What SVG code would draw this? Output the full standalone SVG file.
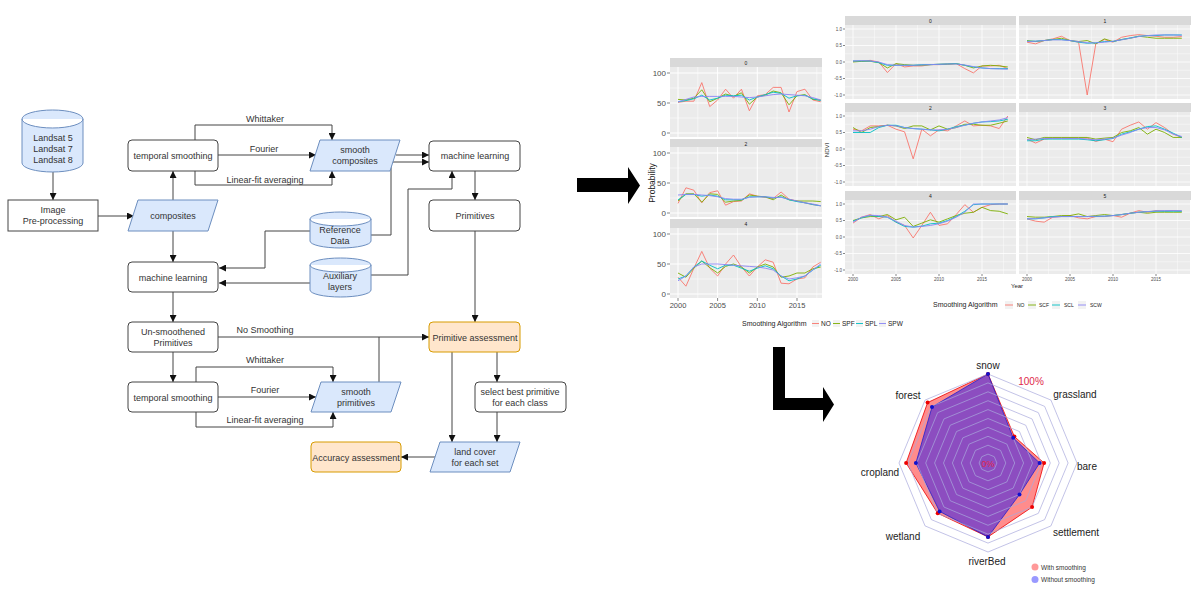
<svg xmlns="http://www.w3.org/2000/svg" xmlns:xlink="http://www.w3.org/1999/xlink" width="1200" height="600" viewBox="0 0 1200 600">
<style>
text{font-family:"Liberation Sans",Arial,sans-serif}
.ft{font-size:9px;fill:#333;text-anchor:middle}
.box{fill:#fff;stroke:#444;stroke-width:1}
.blue{fill:#dae8fc;stroke:#6c8ebf;stroke-width:1}
.org{fill:#ffe6cc;stroke:#d79b00;stroke-width:1}
.cn{fill:none;stroke:#444;stroke-width:1}
.d{fill:none;stroke-width:0.9;vector-effect:non-scaling-stroke;stroke-linejoin:round}
.no{stroke:#F8766D}.sf{stroke:#7CAE00}.sl{stroke:#00BFC4}.sw{stroke:#8a84f5}
.strip{fill:#D9D9D9}
.st{font-size:5px;fill:#1a1a1a;text-anchor:middle}
.tl{font-size:8px;fill:#4d4d4d;text-anchor:end}
.xl{font-size:7.5px;fill:#4d4d4d;text-anchor:middle}
.tr{font-size:4.5px;fill:#4d4d4d;text-anchor:end}
.xr{font-size:4.5px;fill:#4d4d4d;text-anchor:middle}
.tick{stroke:#333;stroke-width:0.6}
.ring{fill:none;stroke:#a9a9dc;stroke-width:0.7}
.rl{font-size:10px;fill:#222;text-anchor:middle}
</style>
<defs>
<marker id="ah" viewBox="0 0 10 10" refX="10" refY="5" markerWidth="7" markerHeight="7" orient="auto" markerUnits="userSpaceOnUse"><path d="M0,0 L10,5 L0,10 Z" fill="#111"/></marker>
<g id="gL"><rect width="152" height="70" fill="#EBEBEB"/><path d="M0,51H152M0,21H152M27.8,0V70M67.5,0V70M107.1,0V70M146.8,0V70" stroke="#fff" stroke-width="0.5"/><path d="M0,66H152M0,36H152M0,6H152M8,0V70M47.6,0V70M87.3,0V70M127,0V70" stroke="#fff" stroke-width="1"/></g>
<g id="gR"><rect width="171" height="74" fill="#EBEBEB"/><path d="M0,12.25H171M0,28.75H171M0,45.25H171M0,61.75H171M29.5,0V74M72.5,0V74M115.5,0V74M158.5,0V74" stroke="#fff" stroke-width="0.4"/><path d="M0,4H171M0,20.5H171M0,37H171M0,53.5H171M0,70H171M8,0V74M51,0V74M94,0V74M137,0V74" stroke="#fff" stroke-width="0.8"/></g>
</defs>
<rect width="1200" height="600" fill="#fff"/>

<!-- connectors -->
<g id="connectors">
<path class="cn" d="M53,172V200" marker-end="url(#ah)"/>
<path class="cn" d="M98,216H134" marker-end="url(#ah)"/>
<path class="cn" d="M173,200V171" marker-end="url(#ah)"/>
<path class="cn" d="M195,140V125H332V140" marker-end="url(#ah)"/>
<path class="cn" d="M218,155H316" marker-end="url(#ah)"/>
<path class="cn" d="M195,171V185H332V171" marker-end="url(#ah)"/>
<path class="cn" d="M396,155H429" marker-end="url(#ah)"/>
<path class="cn" d="M173,231V262" marker-end="url(#ah)"/>
<path class="cn" d="M371,235H391V162H429" marker-end="url(#ah)"/>
<path class="cn" d="M310,231H265V268H219" marker-end="url(#ah)"/>
<path class="cn" d="M310,283H219" marker-end="url(#ah)"/>
<path class="cn" d="M371,275H408V189H452V171" marker-end="url(#ah)"/>
<path class="cn" d="M475,171V200" marker-end="url(#ah)"/>
<path class="cn" d="M475,231V322" marker-end="url(#ah)"/>
<path class="cn" d="M173,292V322" marker-end="url(#ah)"/>
<path class="cn" d="M218,337H429" marker-end="url(#ah)"/>
<path class="cn" d="M173,352V382" marker-end="url(#ah)"/>
<path class="cn" d="M196,382V367H333V382" marker-end="url(#ah)"/>
<path class="cn" d="M218,397H316" marker-end="url(#ah)"/>
<path class="cn" d="M196,412V427H333V412" marker-end="url(#ah)"/>
<path class="cn" d="M379,382V337"/>
<path class="cn" d="M452,352V442" marker-end="url(#ah)"/>
<path class="cn" d="M497,352V382" marker-end="url(#ah)"/>
<path class="cn" d="M497,412V442" marker-end="url(#ah)"/>
<path class="cn" d="M440,457H401" marker-end="url(#ah)"/>
<text class="ft" x="265" y="121.5">Whittaker</text>
<text class="ft" x="264" y="151.5">Fourier</text>
<text class="ft" x="265" y="182.5">Linear-fit averaging</text>
<text class="ft" x="265" y="332.5">No Smoothing</text>
<text class="ft" x="265" y="362.5">Whittaker</text>
<text class="ft" x="265" y="392.5">Fourier</text>
<text class="ft" x="265" y="422.5">Linear-fit averaging</text>
</g>

<!-- nodes -->
<g id="landsat"><path class="blue" d="M22,119 A30.5,9 0 0 1 83,119 V163 A30.5,9 0 0 1 22,163 Z M22,119 A30.5,9 0 0 0 83,119"/><text class="ft" x="53" y="141">Landsat 5</text><text class="ft" x="53" y="152">Landsat 7</text><text class="ft" x="53" y="163">Landsat 8</text></g>
<g id="preproc"><rect class="box" x="8" y="200" width="90" height="31"/><text class="ft" x="53" y="213">Image</text><text class="ft" x="53" y="224">Pre-processing</text></g>
<g id="composites"><polygon class="blue" points="138,200 218,200 208,231 128,231"/><text class="ft" x="173" y="219">composites</text></g>
<g id="tsmooth1"><rect class="box" x="128" y="140" width="90" height="31" rx="4"/><text class="ft" x="173" y="158.5">temporal smoothing</text></g>
<g id="smoothcomp"><polygon class="blue" points="320,140 400,140 390,171 310,171"/><text class="ft" x="355" y="153">smooth</text><text class="ft" x="355" y="164">composites</text></g>
<g id="ml1"><rect class="box" x="429" y="141" width="91" height="30" rx="4"/><text class="ft" x="475" y="159">machine learning</text></g>
<g id="primitives"><rect class="box" x="429" y="200" width="91" height="31" rx="4"/><text class="ft" x="475" y="219">Primitives</text></g>
<g id="refdata"><path class="blue" d="M310,219 A30.5,7 0 0 1 371,219 V241 A30.5,7 0 0 1 310,241 Z M310,219 A30.5,7 0 0 0 371,219"/><text class="ft" x="340" y="233">Reference</text><text class="ft" x="340" y="244">Data</text></g>
<g id="aux"><path class="blue" d="M310,265 A30.5,7 0 0 1 371,265 V290 A30.5,7 0 0 1 310,290 Z M310,265 A30.5,7 0 0 0 371,265"/><text class="ft" x="340" y="279">Auxiliary</text><text class="ft" x="340" y="290">layers</text></g>
<g id="ml2"><rect class="box" x="128" y="262" width="90" height="30" rx="4"/><text class="ft" x="173" y="280.5">machine learning</text></g>
<g id="unsmooth"><rect class="box" x="128" y="322" width="90" height="30" rx="4"/><text class="ft" x="173" y="335">Un-smoothened</text><text class="ft" x="173" y="346">Primitives</text></g>
<g id="tsmooth2"><rect class="box" x="128" y="382" width="90" height="30" rx="4"/><text class="ft" x="173" y="400.5">temporal smoothing</text></g>
<g id="smoothprim"><polygon class="blue" points="321,382 401,382 391,412 311,412"/><text class="ft" x="356" y="395">smooth</text><text class="ft" x="356" y="406">primitives</text></g>
<g id="primassess"><rect class="org" x="429" y="322" width="91" height="30" rx="4"/><text class="ft" x="475" y="340.5">Primitive assessment</text></g>
<g id="selectbest"><rect class="box" x="475" y="382" width="91" height="30" rx="4"/><text class="ft" x="520" y="394.5">select best primitive</text><text class="ft" x="520" y="405.5">for each class</text></g>
<g id="landcover"><polygon class="blue" points="440,442 520,442 510,472 430,472"/><text class="ft" x="475" y="455">land cover</text><text class="ft" x="475" y="466">for each set</text></g>
<g id="accuracy"><rect class="org" x="311" y="442" width="90" height="30" rx="4"/><text class="ft" x="356" y="460.5">Accuracy assessment</text></g>

<!-- big arrows -->
<polygon points="577,178 628,178 628,167 640,185.5 628,204 628,192 577,192" fill="#000"/>
<polygon points="773,347 785,347 785,398 823,398 823,387 834,404.5 823,422 823,410 773,410" fill="#000"/>

<!-- Probability chart -->
<g id="probchart">
<rect class="strip" x="670" y="58" width="152" height="9"/><text class="st" x="746" y="64.5">0</text>
<use xlink:href="#gL" x="670" y="67"/>
<rect class="strip" x="670" y="139" width="152" height="9"/><text class="st" x="746" y="145.5">2</text>
<use xlink:href="#gL" x="670" y="147"/>
<rect class="strip" x="670" y="219" width="152" height="9"/><text class="st" x="746" y="225.5">4</text>
<use xlink:href="#gL" x="670" y="228"/>
<g transform="translate(678,133) scale(7.93,-0.6)">
<polyline class="d no" points="0,51 1,53 2,53 3,84 4,44 5,55 6,73 7,58 8,73 9,37 10,62 11,64 12,76 13,76 14,35 15,69 16,73 17,55 18,52"/>
<polyline class="d sf" points="0,56 1,55 2,58 3,72 4,52 5,58 6,65 7,61 8,67 9,48 10,60 11,63 12,70 13,67 14,47 15,62 16,64 17,56 18,55"/>
<polyline class="d sl" points="0,52 1,54 2,57 3,63 4,55 5,58 6,63 7,62 8,63 9,55 10,60 11,64 12,68 13,66 14,58 15,62 16,63 17,57 18,54"/>
<polyline class="d sw" points="0,52 1,56 2,60 3,61 4,61 5,61 6,61 7,61 8,60 9,59 10,60 11,62 12,64 13,65 14,64 15,63 16,62 17,59 18,55"/>
</g>
<g transform="translate(678,213) scale(7.93,-0.6)">
<polyline class="d no" points="0,16 1,42 2,38 3,17 4,34 5,37 6,13 7,19 8,20 9,32 10,28 11,26 12,24 13,35 14,23 15,20 16,17 17,14 18,12"/>
<polyline class="d sf" points="0,20 1,32 2,32 3,18 4,32 5,31 6,18 7,20 8,21 9,30 10,28 11,27 12,22 13,30 14,22 15,20 16,20 17,20 18,19"/>
<polyline class="d sl" points="0,22 1,31 2,31 3,28 4,30 5,28 6,22 7,22 8,22 9,27 10,27 11,27 12,25 13,27 14,22 15,19 16,17 17,14 18,12"/>
<polyline class="d sw" points="0,30 1,31 2,31 3,30 4,29 5,27 6,24 7,23 8,23 9,26 10,27 11,27 12,26 13,26 14,23 15,20 16,17 17,15 18,12"/>
</g>
<g transform="translate(678,294) scale(7.93,-0.6)">
<polyline class="d no" points="0,28 1,13 2,43 3,71 4,43 5,30 6,50 7,65 8,45 9,30 10,45 11,57 12,53 13,18 14,17 15,25 16,27 17,45 18,53"/>
<polyline class="d sf" points="0,35 1,28 2,43 3,55 4,44 5,35 6,46 7,50 8,45 9,35 10,45 11,50 12,45 13,28 14,30 15,35 16,35 17,42 18,45"/>
<polyline class="d sl" points="0,25 1,30 2,45 3,55 4,48 5,42 6,48 7,48 8,43 9,38 10,43 11,47 12,42 13,30 14,22 15,25 16,30 17,40 18,48"/>
<polyline class="d sw" points="0,22 1,30 2,45 3,50 4,50 5,50 6,49 7,48 8,47 9,46 10,45 11,43 12,40 13,30 14,25 15,27 16,30 17,40 18,50"/>
</g>
<path class="tick" d="M667,73H670M667,103H670M667,133H670M667,153H670M667,183H670M667,213H670M667,234H670M667,264H670M667,294H670M678,298V301M717.6,298V301M757.3,298V301M797,298V301"/>
<text class="tl" x="666" y="76">100</text><text class="tl" x="666" y="106">50</text><text class="tl" x="666" y="136">0</text>
<text class="tl" x="666" y="156">100</text><text class="tl" x="666" y="186">50</text><text class="tl" x="666" y="216">0</text>
<text class="tl" x="666" y="237">100</text><text class="tl" x="666" y="267">50</text><text class="tl" x="666" y="297">0</text>
<text class="xl" x="678" y="308">2000</text><text class="xl" x="717.6" y="308">2005</text><text class="xl" x="757.3" y="308">2010</text><text class="xl" x="797" y="308">2015</text>
<text x="655" y="183" transform="rotate(-90 655 183)" style="font-size:8.5px;fill:#222;text-anchor:middle">Probability</text>
<text x="742" y="326" style="font-size:7px;fill:#222">Smoothing Algorithm</text>
<rect x="812" y="320" width="7" height="7" fill="#f2f2f2"/><path class="d no" d="M812,323.5H819"/><text x="821" y="325.8" style="font-size:6.5px;fill:#222">NO</text>
<rect x="833" y="320" width="7" height="7" fill="#f2f2f2"/><path class="d sf" d="M833,323.5H840"/><text x="842" y="325.8" style="font-size:6.5px;fill:#222">SPF</text>
<rect x="856" y="320" width="7" height="7" fill="#f2f2f2"/><path class="d sl" d="M856,323.5H863"/><text x="865" y="325.8" style="font-size:6.5px;fill:#222">SPL</text>
<rect x="879" y="320" width="7" height="7" fill="#f2f2f2"/><path class="d sw" d="M879,323.5H886"/><text x="888" y="325.8" style="font-size:6.5px;fill:#222">SPW</text>
</g>

<!-- NDVI chart -->
<g id="ndvichart">
<rect class="strip" x="845" y="16" width="171" height="9"/><text class="st" x="930.5" y="22.5">0</text>
<rect class="strip" x="1019" y="16" width="172" height="9"/><text class="st" x="1105" y="22.5">1</text>
<use xlink:href="#gR" x="845" y="25"/><use xlink:href="#gR" x="1019" y="25"/>
<rect class="strip" x="845" y="103" width="171" height="9"/><text class="st" x="930.5" y="109.5">2</text>
<rect class="strip" x="1019" y="103" width="172" height="9"/><text class="st" x="1105" y="109.5">3</text>
<use xlink:href="#gR" x="845" y="112"/><use xlink:href="#gR" x="1019" y="112"/>
<rect class="strip" x="845" y="191" width="171" height="9"/><text class="st" x="930.5" y="197.5">4</text>
<rect class="strip" x="1019" y="191" width="172" height="9"/><text class="st" x="1105" y="197.5">5</text>
<use xlink:href="#gR" x="845" y="200"/><use xlink:href="#gR" x="1019" y="200"/>
<g transform="translate(853,62) scale(8.6,-33)">
<polyline class="d no" points="0,0.02 1,0.02 2,0.05 3,0 4,-0.32 5,-0.05 6,-0.15 7,-0.12 8,-0.12 9,-0.08 10,-0.08 11,-0.07 12,-0.05 13,-0.2 14,-0.33 15,-0.12 16,-0.12 17,-0.1 18,-0.2"/>
<polyline class="d sf" points="0,0 1,0.02 2,0.02 3,-0.02 4,-0.18 5,-0.05 6,-0.08 7,-0.1 8,-0.1 9,-0.08 10,-0.07 11,-0.06 12,-0.05 13,-0.1 14,-0.18 15,-0.12 16,-0.1 17,-0.12 18,-0.15"/>
<polyline class="d sl" points="0,0.03 1,0.03 2,0.03 3,-0.02 4,-0.1 5,-0.1 6,-0.1 7,-0.1 8,-0.08 9,-0.08 10,-0.07 11,-0.06 12,-0.05 13,-0.1 14,-0.15 15,-0.18 16,-0.2 17,-0.2 18,-0.2"/>
<polyline class="d sw" points="0,0.03 1,0.04 2,0.03 3,0 4,-0.08 5,-0.1 6,-0.1 7,-0.1 8,-0.09 9,-0.08 10,-0.07 11,-0.06 12,-0.06 13,-0.09 14,-0.14 15,-0.18 16,-0.2 17,-0.21 18,-0.22"/>
</g>
<g transform="translate(1027,62) scale(8.6,-33)">
<polyline class="d no" points="0,0.6 1,0.55 2,0.65 3,0.7 4,0.78 5,0.65 6,0.6 7,-1 8,0.55 9,0.68 10,0.6 11,0.75 12,0.8 13,0.83 14,0.8 15,0.78 16,0.75 17,0.75 18,0.77"/>
<polyline class="d sf" points="0,0.65 1,0.62 2,0.65 3,0.68 4,0.72 5,0.65 6,0.62 7,0.65 8,0.55 9,0.7 10,0.62 11,0.68 12,0.72 13,0.78 14,0.75 15,0.72 16,0.72 17,0.72 18,0.72"/>
<polyline class="d sl" points="0,0.63 1,0.63 2,0.65 3,0.68 4,0.68 5,0.65 6,0.6 7,0.57 8,0.58 9,0.62 10,0.62 11,0.68 12,0.73 13,0.78 14,0.8 15,0.8 16,0.82 17,0.82 18,0.82"/>
<polyline class="d sw" points="0,0.62 1,0.63 2,0.65 3,0.67 4,0.67 5,0.65 6,0.62 7,0.58 8,0.58 9,0.6 10,0.63 11,0.67 12,0.72 13,0.77 14,0.8 15,0.82 16,0.82 17,0.82 18,0.81"/>
</g>
<g transform="translate(853,149) scale(8.6,-33)">
<polyline class="d no" points="0,0.6 1,0.55 2,0.7 3,0.7 4,0.72 5,0.6 6,0.52 7,-0.3 8,0.6 9,0.4 10,0.58 11,0.55 12,0.7 13,0.85 14,0.7 15,0.72 16,0.7 17,0.62 18,1"/>
<polyline class="d sf" points="0,0.65 1,0.5 2,0.65 3,0.68 4,0.72 5,0.7 6,0.62 7,0.7 8,0.7 9,0.58 10,0.7 11,0.6 12,0.65 13,0.75 14,0.75 15,0.72 16,0.72 17,0.78 18,0.85"/>
<polyline class="d sl" points="0,0.5 1,0.5 2,0.5 3,0.65 4,0.72 5,0.72 6,0.65 7,0.62 8,0.6 9,0.58 10,0.55 11,0.6 12,0.68 13,0.72 14,0.78 15,0.82 16,0.83 17,0.85 18,0.9"/>
<polyline class="d sw" points="0,0.55 1,0.55 2,0.6 3,0.68 4,0.72 5,0.7 6,0.65 7,0.62 8,0.6 9,0.58 10,0.58 11,0.6 12,0.65 13,0.72 14,0.78 15,0.82 16,0.85 17,0.88 18,0.95"/>
</g>
<g transform="translate(1027,149) scale(8.6,-33)">
<polyline class="d no" points="0,0.3 1,0.18 2,0.3 3,0.33 4,0.33 5,0.33 6,0.33 7,0.33 8,0.23 9,0.3 10,0.22 11,0.6 12,0.72 13,0.82 14,0.6 15,0.8 16,0.65 17,0.45 18,0.35"/>
<polyline class="d sf" points="0,0.35 1,0.28 2,0.35 3,0.35 4,0.35 5,0.35 6,0.35 7,0.35 8,0.3 9,0.33 10,0.35 11,0.5 12,0.55 13,0.65 14,0.45 15,0.6 16,0.5 17,0.35 18,0.35"/>
<polyline class="d sl" points="0,0.25 1,0.25 2,0.3 3,0.3 4,0.3 5,0.3 6,0.3 7,0.28 8,0.25 9,0.28 10,0.32 11,0.45 12,0.52 13,0.6 14,0.68 15,0.7 16,0.6 17,0.48 18,0.35"/>
<polyline class="d sw" points="0,0.28 1,0.3 2,0.32 3,0.32 4,0.32 5,0.32 6,0.32 7,0.3 8,0.28 9,0.3 10,0.33 11,0.42 12,0.5 13,0.6 14,0.65 15,0.65 16,0.58 17,0.45 18,0.38"/>
</g>
<g transform="translate(853,237) scale(8.6,-33)">
<polyline class="d no" points="0,0.42 1,0.6 2,0.68 3,0.55 4,0.65 5,0.45 6,0.35 7,-0.03 8,0.35 9,0.75 10,0.35 11,0.4 12,0.68 13,0.98 14,0.75 15,0.9 16,0.98 17,1 18,1"/>
<polyline class="d sf" points="0,0.5 1,0.58 2,0.62 3,0.62 4,0.68 5,0.52 6,0.6 7,0.32 8,0.42 9,0.52 10,0.45 11,0.55 12,0.65 13,0.72 14,0.75 15,0.9 16,0.8 17,0.78 18,0.7"/>
<polyline class="d sl" points="0,0.48 1,0.58 2,0.65 3,0.62 4,0.6 5,0.45 6,0.32 7,0.3 8,0.33 9,0.4 10,0.42 11,0.5 12,0.62 13,0.78 14,0.98 15,1 16,1 17,1 18,1"/>
<polyline class="d sw" points="0,0.45 1,0.6 2,0.66 3,0.65 4,0.6 5,0.48 6,0.35 7,0.3 8,0.32 9,0.35 10,0.4 11,0.48 12,0.6 13,0.75 14,1 15,1 16,1 17,1 18,1"/>
</g>
<g transform="translate(1027,237) scale(8.6,-33)">
<polyline class="d no" points="0,0.55 1,0.48 2,0.45 3,0.6 4,0.62 5,0.65 6,0.58 7,0.55 8,0.62 9,0.62 10,0.65 11,0.6 12,0.72 13,0.8 14,0.75 15,0.8 16,0.78 17,0.8 18,0.78"/>
<polyline class="d sf" points="0,0.62 1,0.6 2,0.6 3,0.62 4,0.65 5,0.65 6,0.7 7,0.62 8,0.65 9,0.68 10,0.65 11,0.68 12,0.72 13,0.75 14,0.72 15,0.75 16,0.75 17,0.75 18,0.75"/>
<polyline class="d sl" points="0,0.55 1,0.55 2,0.58 3,0.62 4,0.62 5,0.62 6,0.62 7,0.62 8,0.62 9,0.63 10,0.65 11,0.68 12,0.72 13,0.75 14,0.77 15,0.78 16,0.78 17,0.78 18,0.78"/>
<polyline class="d sw" points="0,0.55 1,0.56 2,0.58 3,0.6 4,0.62 5,0.62 6,0.62 7,0.62 8,0.63 9,0.63 10,0.65 11,0.68 12,0.72 13,0.75 14,0.77 15,0.79 16,0.8 17,0.8 18,0.8"/>
</g>
<path class="tick" d="M843,29H845M843,45.5H845M843,62H845M843,78.5H845M843,95H845M843,116H845M843,132.5H845M843,149H845M843,165.5H845M843,182H845M843,204H845M843,220.5H845M843,237H845M843,253.5H845M843,270H845M853,274V276M896,274V276M939,274V276M982,274V276M1027,274V276M1070,274V276M1113,274V276M1156,274V276"/>
<g class="tr">
<text x="842" y="30.5">1.0</text><text x="842" y="47">0.5</text><text x="842" y="63.5">0.0</text><text x="842" y="80">-0.5</text><text x="842" y="96.5">-1.0</text>
<text x="842" y="117.5">1.0</text><text x="842" y="134">0.5</text><text x="842" y="150.5">0.0</text><text x="842" y="167">-0.5</text><text x="842" y="183.5">-1.0</text>
<text x="842" y="205.5">1.0</text><text x="842" y="222">0.5</text><text x="842" y="238.5">0.0</text><text x="842" y="255">-0.5</text><text x="842" y="271.5">-1.0</text>
</g>
<g class="xr">
<text x="853" y="281">2000</text><text x="896" y="281">2005</text><text x="939" y="281">2010</text><text x="982" y="281">2015</text>
<text x="1027" y="281">2000</text><text x="1070" y="281">2005</text><text x="1113" y="281">2010</text><text x="1156" y="281">2015</text>
</g>
<text x="1017" y="288" style="font-size:6px;fill:#222;text-anchor:middle">Year</text>
<text x="829" y="150" transform="rotate(-90 829 150)" style="font-size:6px;fill:#222;text-anchor:middle">NDVI</text>
<text x="933" y="307" style="font-size:7px;fill:#222">Smoothing Algorithm</text>
<rect x="1005" y="301" width="8" height="8" fill="#f2f2f2"/><path class="d no" d="M1005,305H1013"/><text x="1017" y="306.8" style="font-size:5px;fill:#222">NO</text>
<rect x="1028" y="301" width="8" height="8" fill="#f2f2f2"/><path class="d sf" d="M1028,305H1036"/><text x="1039" y="306.8" style="font-size:5px;fill:#222">SCF</text>
<rect x="1052" y="301" width="8" height="8" fill="#f2f2f2"/><path class="d sl" d="M1052,305H1060"/><text x="1064" y="306.8" style="font-size:5px;fill:#222">SCL</text>
<rect x="1078" y="301" width="8" height="8" fill="#f2f2f2"/><path class="d sw" d="M1078,305H1086"/><text x="1090" y="306.8" style="font-size:5px;fill:#222">SCW</text>
</g>

<!-- Radar chart -->
<g id="radar">
<polygon points="988,374 1014.4,436.6 1044.1,463 1032.1,507.1 988,536.9 937.7,513.3 906.1,463 927.6,402.6" fill="#ff0000" fill-opacity="0.45" stroke="#e00" stroke-width="0.8"/>
<polygon points="988,374 1013.2,437.8 1039.6,463 1019.5,494.5 988,536.9 939.6,511.4 915.9,463 932,407" fill="#0000ff" fill-opacity="0.45" stroke="#22c" stroke-width="0.8"/>
<path class="ring" d="M988,454.1l6.29,2.61l2.61,6.29l-2.61,6.29l-6.29,2.61l-6.29,-2.61l-2.61,-6.29l2.61,-6.29z
M988,445.2l12.59,5.21l5.21,12.59l-5.21,12.59l-12.59,5.21l-12.59,-5.21l-5.21,-12.59l5.21,-12.59z
M988,436.3l18.88,7.82l7.82,18.88l-7.82,18.88l-18.88,7.82l-18.88,-7.82l-7.82,-18.88l7.82,-18.88z
M988,427.4l25.17,10.43l10.43,25.17l-10.43,25.17l-25.17,10.43l-25.17,-10.43l-10.43,-25.17l10.43,-25.17z
M988,418.5l31.47,13.03l13.03,31.47l-13.03,31.47l-31.47,13.03l-31.47,-13.03l-13.03,-31.47l13.03,-31.47z
M988,409.6l37.76,15.64l15.64,37.76l-15.64,37.76l-37.76,15.64l-37.76,-15.64l-15.64,-37.76l15.64,-37.76z
M988,400.7l44.05,18.25l18.25,44.05l-18.25,44.05l-44.05,18.25l-44.05,-18.25l-18.25,-44.05l18.25,-44.05z
M988,391.8l50.35,20.85l20.85,50.35l-20.85,50.35l-50.35,20.85l-50.35,-20.85l-20.85,-50.35l20.85,-50.35z
M988,382.9l56.64,23.46l23.46,56.64l-23.46,56.64l-56.64,23.46l-56.64,-23.46l-23.46,-56.64l23.46,-56.64z
M988,374l62.93,26.07l26.07,62.93l-26.07,62.93l-62.93,26.07l-62.93,-26.07l-26.07,-62.93l26.07,-62.93z"/>
<g fill="#e00">
<circle cx="988" cy="374" r="2"/><circle cx="1014.4" cy="436.6" r="2"/><circle cx="1044.1" cy="463" r="2"/><circle cx="1032.1" cy="507.1" r="2"/><circle cx="988" cy="536.9" r="2"/><circle cx="937.7" cy="513.3" r="2"/><circle cx="906.1" cy="463" r="2"/><circle cx="927.6" cy="402.6" r="2"/>
</g>
<g fill="#11c">
<circle cx="988" cy="374" r="2"/><circle cx="1013.2" cy="437.8" r="2"/><circle cx="1039.6" cy="463" r="2"/><circle cx="1019.5" cy="494.5" r="2"/><circle cx="988" cy="536.9" r="2"/><circle cx="939.6" cy="511.4" r="2"/><circle cx="915.9" cy="463" r="2"/><circle cx="932" cy="407" r="2"/>
</g>
<text x="988" y="466.5" style="font-size:9px;fill:#e0284a;text-anchor:middle">0%</text>
<text x="1031" y="384.5" style="font-size:10px;fill:#e0284a;text-anchor:middle">100%</text>
<text class="rl" x="988" y="368.5">snow</text>
<text class="rl" x="1075" y="397.5">grassland</text>
<text class="rl" x="1087" y="469.5">bare</text>
<text class="rl" x="1076" y="535.5">settlement</text>
<text class="rl" x="987" y="564.5">riverBed</text>
<text class="rl" x="903" y="539.5">wetland</text>
<text class="rl" x="880" y="476">cropland</text>
<text class="rl" x="908" y="398.5">forest</text>
<circle cx="1035" cy="567" r="3.5" fill="#ff0000" fill-opacity="0.4"/>
<text x="1041" y="569.5" style="font-size:6.5px;fill:#333">With smoothing</text>
<circle cx="1035" cy="579.5" r="3.5" fill="#0000ff" fill-opacity="0.4"/>
<text x="1041" y="582" style="font-size:6.5px;fill:#333">Without smoothing</text>
</g>
</svg>
